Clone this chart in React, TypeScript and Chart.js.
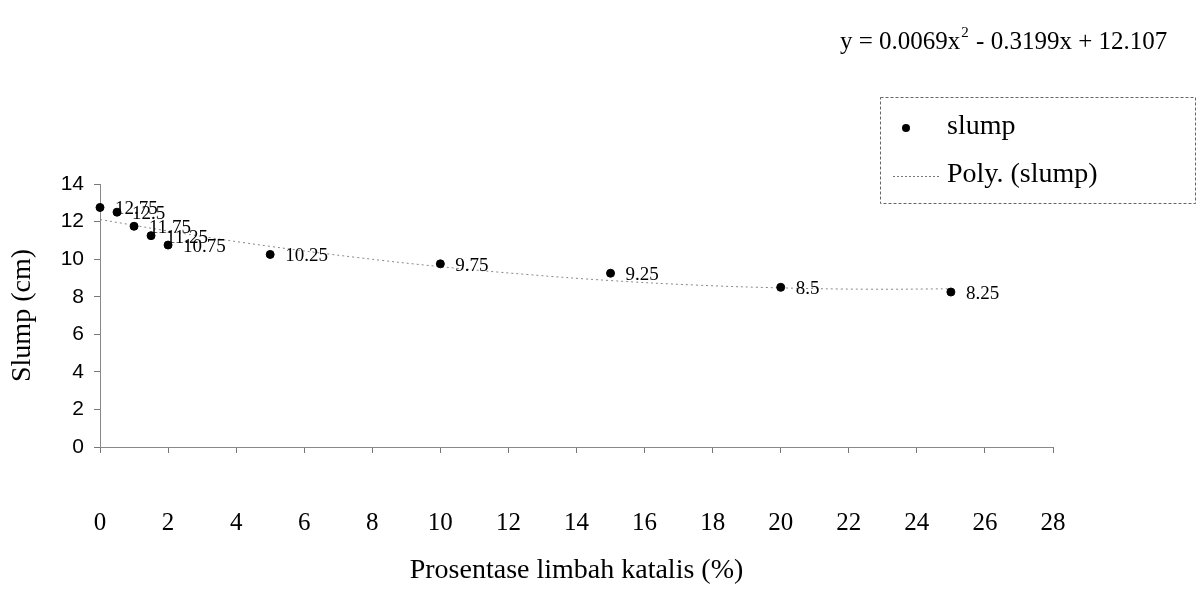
import React, { useEffect, useRef } from "react";
import { Chart, registerables } from "chart.js";

Chart.register(...registerables);

const xValues = [0, 0.5, 1, 1.5, 2, 5, 10, 15, 20, 25];
const slumpValues = [12.75, 12.5, 11.75, 11.25, 10.75, 10.25, 9.75, 9.25, 8.5, 8.25];
const dataLabels = ["12.75", "12.5", "11.75", "11.25", "10.75", "10.25", "9.75", "9.25", "8.5", "8.25"];
const trendX = [0, 2.5, 5, 7.5, 10, 12.5, 15, 17.5, 20, 22.5, 25];
const trendY = [12.11, 11.35, 10.68, 10.1, 9.6, 9.19, 8.86, 8.62, 8.47, 8.4, 8.42];
const xTicks = [0, 2, 4, 6, 8, 10, 12, 14, 16, 18, 20, 22, 24, 26, 28];
const yTicks = [0, 2, 4, 6, 8, 10, 12, 14];
const equationText = "y = 0.0069x";
const equationRest = " - 0.3199x + 12.107";
const seriesName = "slump";
const trendName = "Poly. (slump)";
const xTitle = "Prosentase limbah katalis (%)";
const yTitle = "Slump (cm)";

const SERIF = "'Liberation Serif', 'Times New Roman', serif";
const SANS = "'Liberation Sans', Arial, sans-serif";

const overlayPlugin = {
  id: "overlay",
  afterDatasetsDraw(chart: any) {
    const ctx = chart.ctx;
    const xs = chart.scales.x;
    const ys = chart.scales.y;
    ctx.save();
    // data labels
    ctx.fillStyle = "#000";
    ctx.font = `19px ${SERIF}`;
    ctx.textAlign = "left";
    ctx.textBaseline = "middle";
    xValues.forEach((xv, i) => {
      const px = xs.getPixelForValue(xv);
      const py = ys.getPixelForValue(slumpValues[i]);
      ctx.fillText(dataLabels[i], px + 15, py + 2);
    });
    // equation
    ctx.font = `25px ${SERIF}`;
    ctx.textBaseline = "alphabetic";
    const ex = 840;
    const ey = 49;
    ctx.fillText(equationText, ex, ey);
    const w1 = ctx.measureText(equationText).width;
    ctx.font = `15px ${SERIF}`;
    ctx.fillText("2", ex + w1 + 1, ey - 12);
    const w2 = ctx.measureText("2").width;
    ctx.font = `25px ${SERIF}`;
    ctx.fillText(equationRest, ex + w1 + w2 + 2, ey);
    // legend box
    const lx = 880, ly = 97, lw = 315, lh = 106;
    ctx.strokeStyle = "#666";
    ctx.lineWidth = 1;
    ctx.setLineDash([3, 2]);
    ctx.strokeRect(lx + 0.5, ly + 0.5, lw, lh);
    ctx.setLineDash([]);
    ctx.beginPath();
    ctx.arc(906, 128, 4, 0, Math.PI * 2);
    ctx.fillStyle = "#000";
    ctx.fill();
    ctx.font = `28px ${SERIF}`;
    ctx.textBaseline = "middle";
    ctx.fillText(seriesName, 947, 127);
    ctx.strokeStyle = "#777";
    ctx.setLineDash([2, 2]);
    ctx.beginPath();
    ctx.moveTo(893, 176.5);
    ctx.lineTo(940, 176.5);
    ctx.stroke();
    ctx.setLineDash([]);
    ctx.fillText(trendName, 947, 175);
    ctx.restore();
  },
};

export default function App() {
  const canvasRef = useRef<HTMLCanvasElement | null>(null);

  useEffect(() => {
    if (!canvasRef.current) return;
    const chart = new Chart(canvasRef.current, {
      type: "scatter",
      data: {
        datasets: [
          {
            type: "scatter",
            label: seriesName,
            data: xValues.map((x, i) => ({ x, y: slumpValues[i] })),
            backgroundColor: "#000",
            borderColor: "#000",
            pointRadius: 4,
            clip: false,
          } as any,
          {
            type: "line",
            label: trendName,
            data: trendX.map((x, i) => ({ x, y: trendY[i] })),
            borderColor: "#888",
            borderWidth: 1,
            borderDash: [2, 3],
            pointRadius: 0,
            fill: false,
            tension: 0.4,
            clip: false,
          } as any,
        ],
      },
      options: {
        animation: false,
        responsive: false,
        maintainAspectRatio: false,
        layout: { padding: { left: 0, right: 149, top: 184, bottom: 0 } },
        plugins: {
          legend: { display: false },
          tooltip: { enabled: false },
        },
        scales: {
          x: {
            type: "linear",
            min: 0,
            max: 28,
            afterBuildTicks: (s: any) => {
              s.ticks = xTicks.map((v) => ({ value: v }));
            },
            afterFit: (s: any) => {
              s.height = 590 - 447;
            },
            grid: { drawOnChartArea: false, drawTicks: true, tickLength: 6, color: "#777" },
            border: { display: true, color: "#888", dash: [2, 4] },
            ticks: { color: "#000", font: { family: SERIF, size: 25 }, padding: 55 },
            title: {
              display: true,
              text: xTitle,
              color: "#000",
              font: { family: SERIF, size: 28 },
              padding: { top: 0, bottom: 3 },
            },
          },
          y: {
            type: "linear",
            min: 0,
            max: 14,
            afterBuildTicks: (s: any) => {
              s.ticks = yTicks.map((v) => ({ value: v }));
            },
            afterFit: (s: any) => {
              s.width = 100;
            },
            grid: { drawOnChartArea: false, drawTicks: true, tickLength: 6, color: "#777" },
            border: { display: true, color: "#888", dash: [5, 2] },
            ticks: { color: "#000", font: { family: SANS, size: 21 }, padding: 10 },
            title: {
              display: true,
              text: yTitle,
              color: "#000",
              font: { family: SERIF, size: 28 },
              padding: { top: 6, bottom: 0 },
            },
          },
        },
      },
      plugins: [overlayPlugin],
    });
    return () => chart.destroy();
  }, []);

  return (
    <div style={{ position: "absolute", left: 0, top: 0, width: 1202, height: 590, background: "#fff" }}>
      <canvas ref={canvasRef} width={1202} height={590} style={{ width: 1202, height: 590 }} />
    </div>
  );
}
